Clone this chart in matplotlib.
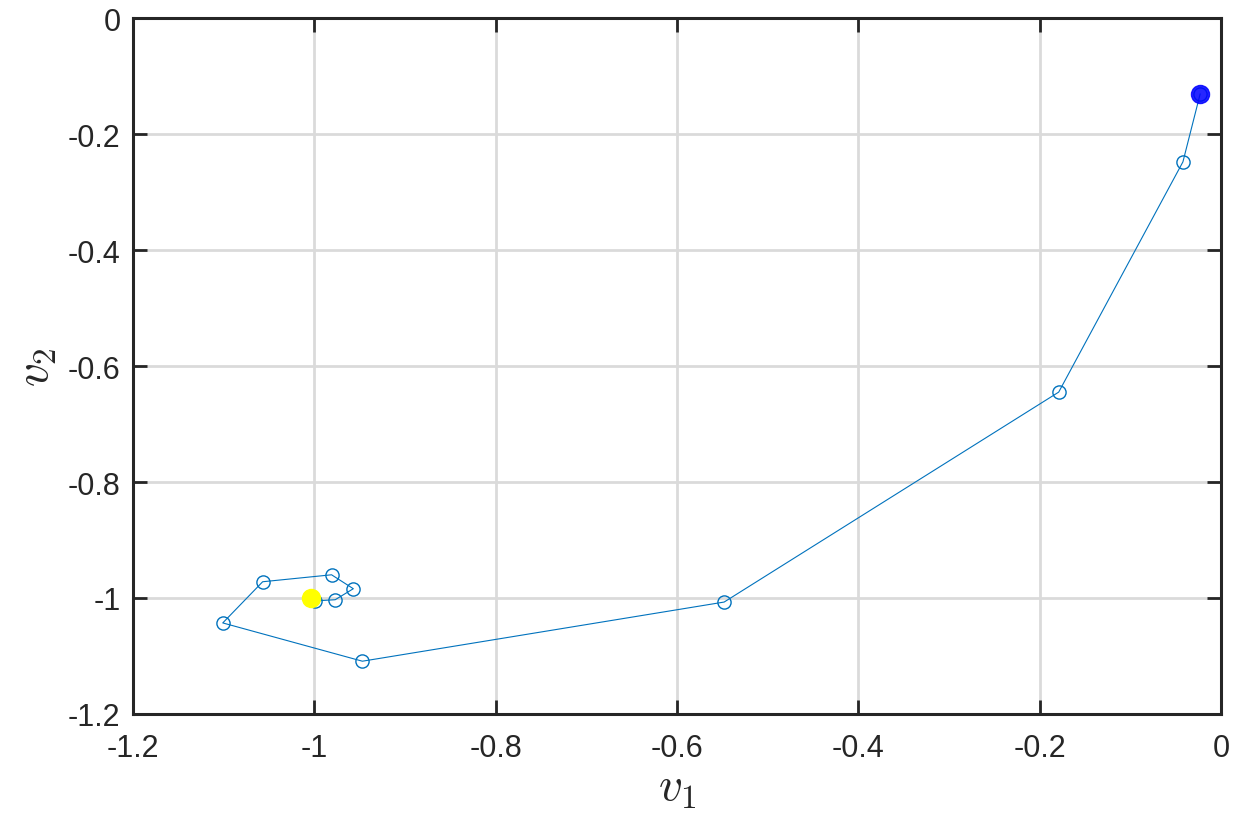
import numpy as np
import matplotlib.pyplot as plt

# trajectory in (v1, v2)
v1 = [-0.023, -0.042, -0.179, -0.548, -0.947, -1.101, -1.057, -0.981, -0.957, -0.977, -0.999]
v2 = [-0.131, -0.248, -0.645, -1.007, -1.109, -1.043, -0.972, -0.960, -0.984, -1.003, -1.005]
start = (v1[0], v2[0])
target = (-1.004, -1.0)

xticks = [-1.2, -1, -0.8, -0.6, -0.4, -0.2, 0]
yticks = [-1.2, -1, -0.8, -0.6, -0.4, -0.2, 0]

plt.rcParams['font.family'] = ['Liberation Sans', 'DejaVu Sans']
plt.rcParams['mathtext.fontset'] = 'cm'

fig = plt.figure(figsize=(12.5, 8.28), dpi=100)
ax = fig.add_axes([0.1064, 0.1365, 0.8704, 0.8405])

ax.plot(v1, v2, '-o', color='#0072BD', lw=0.8, ms=9.5, mfc='none', mew=1.0, zorder=3)
ax.plot(*start, 'o', color='#0000FF', ms=13, alpha=0.85, zorder=4)
ax.plot(*target, 'o', color='#FFFF00', ms=13, zorder=4)

ax.set_xlim(-1.2, 0)
ax.set_ylim(-1.2, 0)
ax.set_xticks(xticks)
ax.set_yticks(yticks)
ax.set_xticklabels(['%g' % t for t in xticks])
ax.set_yticklabels(['%g' % t for t in yticks])
ax.grid(True, color='#dadada', lw=2)
ax.set_axisbelow(True)
ax.tick_params(direction='in', length=10, width=2, top=True, right=True,
               labelsize=22, colors='#262626')
ax.tick_params(axis='x', pad=14)
ax.tick_params(axis='y', pad=9)
for s in ax.spines.values():
    s.set_linewidth(2.2)
    s.set_color('#262626')

ax.set_xlabel(r'$v_1$', fontsize=34, color='#262626', labelpad=2)
ax.set_ylabel(r'$v_2$', fontsize=34, color='#262626', labelpad=6)

fig.savefig('out.png', dpi=100)
